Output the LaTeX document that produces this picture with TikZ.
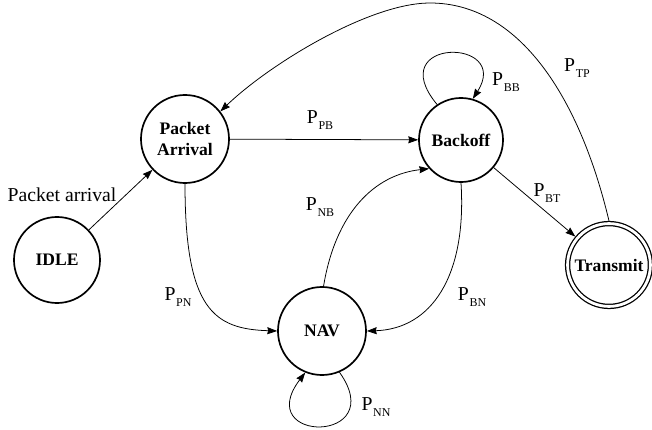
\documentclass[tikz,border=0pt]{standalone}
\usepackage{fontspec}
\setmainfont{Liberation Serif}
\usetikzlibrary{arrows.meta}
\newcommand{\prb}[1]{P\kern0.5pt\raisebox{-4.5pt}{\fontsize{8.5}{9}\selectfont #1}}

\begin{document}
\begin{tikzpicture}[x=0.025cm, y=0.025cm, font=\fontsize{14}{16}\selectfont, line join=round, line cap=round, >={Stealth[length=7pt,width=5pt,inset=0.6pt]},
	state/.style={circle, draw, line width=1.2pt, minimum size=2.15cm, inner sep=0pt, align=center, font=\fontsize{12.5}{15.5}\selectfont\bfseries},
	edge/.style={->, line width=0.55pt}]
	\useasboundingbox (0,0) rectangle (652,429);

	\node[state] (IDLE) at (57,169) {IDLE};
	\node[state, minimum size=2.2cm] (PA) at (185,290) {Packet\\Arrival};
	\node[state, minimum size=2.1cm] (BO) at (461,289) {Backoff};
	\node[state, minimum size=2.2cm] (NAV) at (322,98) {NAV};
	\node[state, double, double distance=2pt, line width=0.9pt, minimum size=2.07cm, outer sep=1.9pt] (TR) at (609,164) {Transmit};
	\coordinate (top) at (430,426);

	\draw[edge] (IDLE)--(PA);
	\draw[edge] (PA)--(BO);
	\draw[edge] (BO)--(TR);
	\draw[edge] (BO.124) .. controls +(-55.5,67.2) and +(39.4,61.6) .. (BO.74);
	\draw[edge] (TR.90) .. controls +(-29,122) and +(90,0) .. (top)
		.. controls +(-60,0) and +(50,48) .. (PA.38);
	\draw[edge] (PA.270) .. controls +(0,-126) and +(-63,2) .. (NAV.180);
	\draw[edge] (NAV.88) .. controls +(12,73) and +(-55,-6) .. (BO.222);
	\draw[edge] (BO.270) .. controls +(6,-94) and +(64,2) .. (NAV.0);
	\draw[edge] (NAV.-67) .. controls +(51,-72) and +(-54,-71) .. (NAV.-112);

	\node (arr) at (62,234) {Packet arrival};
	\foreach \s/\x/\y in {PB/320/309, BB/506/347, TP/577/361, BT/547/236, NB/320/222, PN/178/132, BN/472/132, NN/376/22}
	\node (l\s) at (\x,\y) {\prb{\s}};
\end{tikzpicture}
\end{document}
